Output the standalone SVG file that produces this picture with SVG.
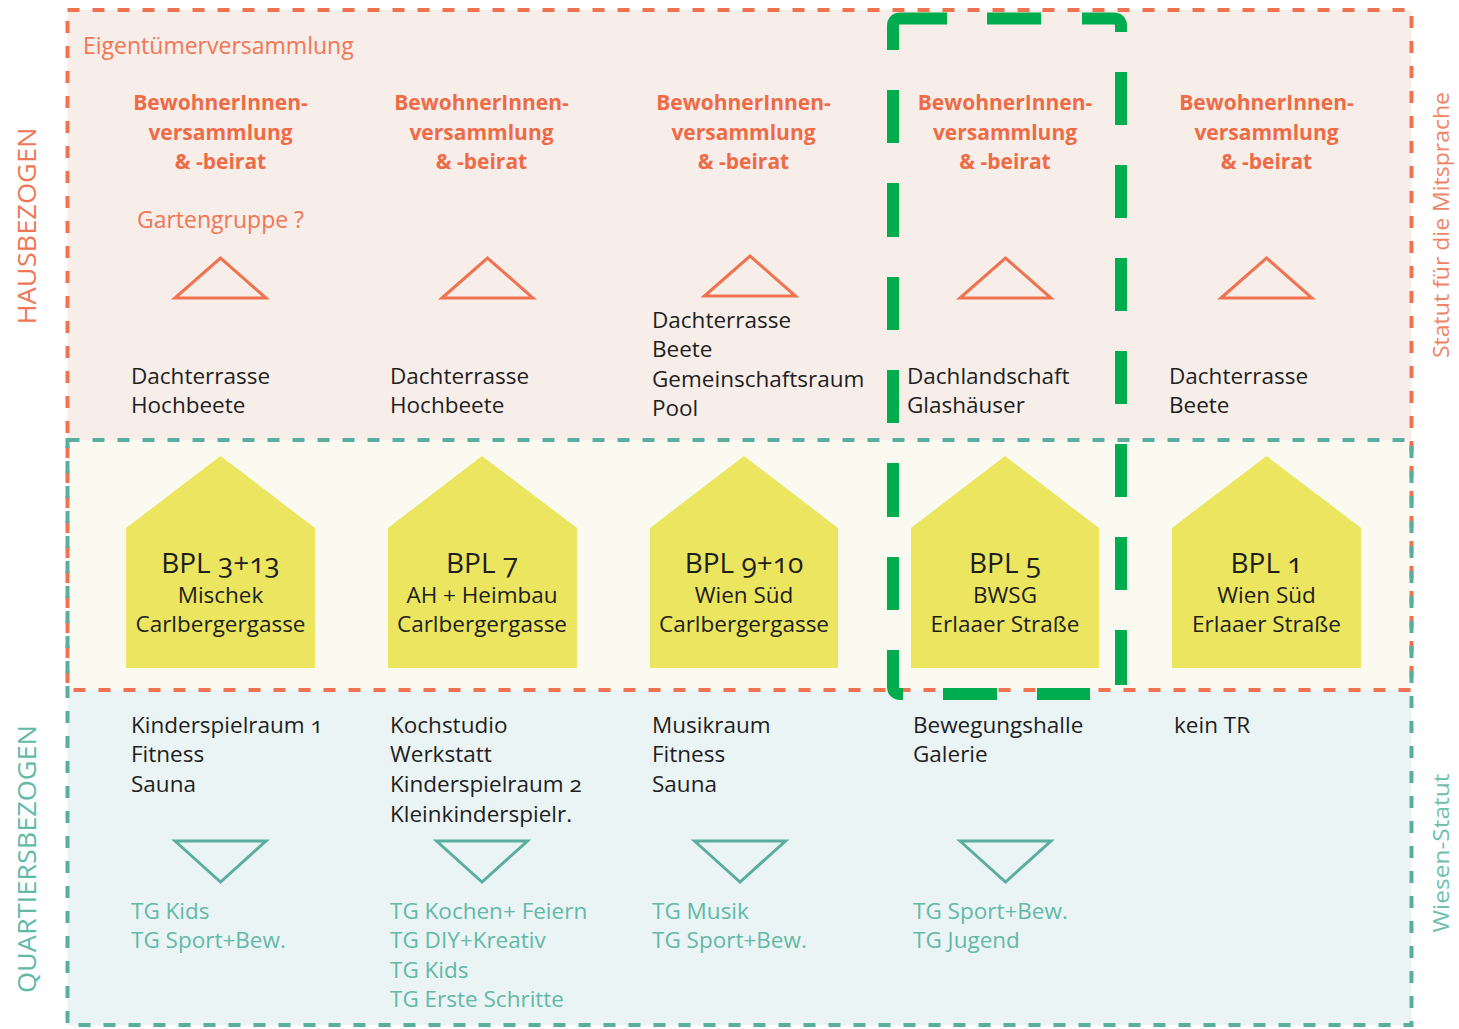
<svg xmlns="http://www.w3.org/2000/svg" width="1459" height="1029" viewBox="0 0 1459 1029">
<style>
text{font-family:"Open Sans","Noto Sans","Liberation Sans",sans-serif;font-variant-numeric:oldstyle-nums}
.o{fill:#f07656;font-size:23px}
.ob{fill:#ee6b47;font-size:21px;font-weight:700;text-anchor:middle}
.k{fill:#1e1e1e;font-size:22.5px}
.t{fill:#62b9a7;font-size:22.5px}
.ht{fill:#1e1e1e;font-size:28px;text-anchor:middle}
.hs{fill:#1e1e1e;font-size:22.5px;text-anchor:middle}
.house{fill:#ebe55f}
.fo{fill:none;stroke:#ef7350;stroke-width:4;stroke-dasharray:12 13}
.ft{fill:none;stroke:#5aae9f;stroke-width:4;stroke-dasharray:12 13}
.up{fill:none;stroke:#ef7350;stroke-width:3}
.dn{fill:none;stroke:#5aae9f;stroke-width:3}
.g{fill:none;stroke:#00ad4e;stroke-width:12}
</style>
<rect width="1459" height="1029" fill="#ffffff"/>
<g id="backgrounds">
<rect x="67.5" y="10" width="1344" height="430" fill="#f8eee9"/>
<rect x="67.5" y="440" width="1344" height="250" fill="#fafaf1"/>
<rect x="67.5" y="690" width="1344" height="335" fill="#ebf4f4"/>
</g>
<g id="frames">
<rect class="fo" x="67.5" y="10" width="1344" height="680"/>
<rect class="ft" x="67.5" y="440" width="1344" height="585"/>
</g>
<g id="side-labels">
<text transform="translate(36,226) rotate(-90)" text-anchor="middle" fill="#f07656" font-size="25" textLength="197" lengthAdjust="spacingAndGlyphs">HAUSBEZOGEN</text>
<text transform="translate(36,859) rotate(-90)" text-anchor="middle" fill="#62b9a7" font-size="25" textLength="268" lengthAdjust="spacingAndGlyphs">QUARTIERSBEZOGEN</text>
<text transform="translate(1449,225) rotate(-90)" text-anchor="middle" fill="#f08566" font-size="22" textLength="266" lengthAdjust="spacingAndGlyphs">Statut für die Mitsprache</text>
<text transform="translate(1449,853) rotate(-90)" text-anchor="middle" fill="#6fc0ae" font-size="22" textLength="159" lengthAdjust="spacingAndGlyphs">Wiesen-Statut</text>
</g>
<text id="eigentuemer" class="o" x="83" y="54">Eigentümerversammlung</text>
<g id="col1">
<text class="ob" x="220.5" y="110">BewohnerInnen-</text>
<text class="ob" x="220.5" y="140">versammlung</text>
<text class="ob" x="220.5" y="169">&amp; -beirat</text>
<text class="o" x="220.5" y="228" text-anchor="middle">Gartengruppe ?</text>
<text class="k" x="131" y="384">Dachterrasse</text>
<text class="k" x="131" y="413">Hochbeete</text>
<g id="house1"><polygon class="house" points="126,528 220.5,456 315,528 315,668 126,668"/>
<text class="ht" x="220.5" y="573">BPL 3+13</text>
<text class="hs" x="220.5" y="603">Mischek</text>
<text class="hs" x="220.5" y="632">Carlbergergasse</text></g>
<text class="k" x="131" y="733">Kinderspielraum 1</text>
<text class="k" x="131" y="762">Fitness</text>
<text class="k" x="131" y="792">Sauna</text>
<text class="t" x="131" y="919">TG Kids</text>
<text class="t" x="131" y="948">TG Sport+Bew.</text>
</g>
<g id="col2">
<text class="ob" x="481.5" y="110">BewohnerInnen-</text>
<text class="ob" x="481.5" y="140">versammlung</text>
<text class="ob" x="481.5" y="169">&amp; -beirat</text>
<text class="k" x="390" y="384">Dachterrasse</text>
<text class="k" x="390" y="413">Hochbeete</text>
<g id="house2"><polygon class="house" points="388,528 482,456 577,528 577,668 388,668"/>
<text class="ht" x="482" y="573">BPL 7</text>
<text class="hs" x="482" y="603">AH + Heimbau</text>
<text class="hs" x="482" y="632">Carlbergergasse</text></g>
<text class="k" x="390" y="733">Kochstudio</text>
<text class="k" x="390" y="762">Werkstatt</text>
<text class="k" x="390" y="792">Kinderspielraum 2</text>
<text class="k" x="390" y="822">Kleinkinderspielr.</text>
<text class="t" x="390" y="919">TG Kochen+ Feiern</text>
<text class="t" x="390" y="948">TG DIY+Kreativ</text>
<text class="t" x="390" y="978">TG Kids</text>
<text class="t" x="390" y="1007">TG Erste Schritte</text>
</g>
<g id="col3">
<text class="ob" x="743.5" y="110">BewohnerInnen-</text>
<text class="ob" x="743.5" y="140">versammlung</text>
<text class="ob" x="743.5" y="169">&amp; -beirat</text>
<text class="k" x="652" y="328">Dachterrasse</text>
<text class="k" x="652" y="357">Beete</text>
<text class="k" x="652" y="387">Gemeinschaftsraum</text>
<text class="k" x="652" y="416">Pool</text>
<g id="house3"><polygon class="house" points="650,528 744,456 838,528 838,668 650,668"/>
<text class="ht" x="744" y="573">BPL 9+10</text>
<text class="hs" x="744" y="603">Wien Süd</text>
<text class="hs" x="744" y="632">Carlbergergasse</text></g>
<text class="k" x="652" y="733">Musikraum</text>
<text class="k" x="652" y="762">Fitness</text>
<text class="k" x="652" y="792">Sauna</text>
<text class="t" x="652" y="919">TG Musik</text>
<text class="t" x="652" y="948">TG Sport+Bew.</text>
</g>
<g id="col4">
<text class="ob" x="1005" y="110">BewohnerInnen-</text>
<text class="ob" x="1005" y="140">versammlung</text>
<text class="ob" x="1005" y="169">&amp; -beirat</text>
<text class="k" x="907" y="384">Dachlandschaft</text>
<text class="k" x="907" y="413">Glashäuser</text>
<g id="house4"><polygon class="house" points="911,528 1005,456 1099,528 1099,668 911,668"/>
<text class="ht" x="1005" y="573">BPL 5</text>
<text class="hs" x="1005" y="603">BWSG</text>
<text class="hs" x="1005" y="632">Erlaaer Straße</text></g>
<text class="k" x="913" y="733">Bewegungshalle</text>
<text class="k" x="913" y="762">Galerie</text>
<text class="t" x="913" y="919">TG Sport+Bew.</text>
<text class="t" x="913" y="948">TG Jugend</text>
</g>
<g id="col5">
<text class="ob" x="1266.5" y="110">BewohnerInnen-</text>
<text class="ob" x="1266.5" y="140">versammlung</text>
<text class="ob" x="1266.5" y="169">&amp; -beirat</text>
<text class="k" x="1169" y="384">Dachterrasse</text>
<text class="k" x="1169" y="413">Beete</text>
<g id="house5"><polygon class="house" points="1172,528 1266.5,456 1361,528 1361,668 1172,668"/>
<text class="ht" x="1266.5" y="573">BPL 1</text>
<text class="hs" x="1266.5" y="603">Wien Süd</text>
<text class="hs" x="1266.5" y="632">Erlaaer Straße</text></g>
<text class="k" x="1174" y="733">kein TR</text>
</g>
<g id="connectors">
<polygon class="up" points="175,298 220.5,258 266,298"/>
<polygon class="up" points="442,298 487.5,258 533,298"/>
<polygon class="up" points="704.5,296 750,256 795.5,296"/>
<polygon class="up" points="960,298 1005.5,258 1051,298"/>
<polygon class="up" points="1221,298 1266.5,258 1312,298"/>
<polygon class="dn" points="175,841 220.5,882 266,841"/>
<polygon class="dn" points="436.5,841 482,882 527.5,841"/>
<polygon class="dn" points="694.5,841 740,882 785.5,841"/>
<polygon class="dn" points="960,841 1005.5,882 1051,841"/>
</g>
<g id="highlight">
<path class="g" d="M893,50 V26 Q893,18.5 900.5,18.5 H947 M987,18.5 H1041 M1082,18.5 H1113.5 Q1121,18.5 1121,26 V32"/>
<path class="g" d="M1121,72 V125 M1121,165 V218 M1121,258 V311 M1121,351 V404 M1121,444 V497 M1121,537 V590 M1121,630 V685"/>
<path class="g" d="M893,90 V143 M893,183 V237 M893,277 V330 M893,370 V423 M893,463 V517 M893,557 V610"/>
<path class="g" d="M893,650 V686.5 Q893,694 900.5,694 H903 M943,694 H997 M1037,694 H1090"/>
</g>
</svg>
